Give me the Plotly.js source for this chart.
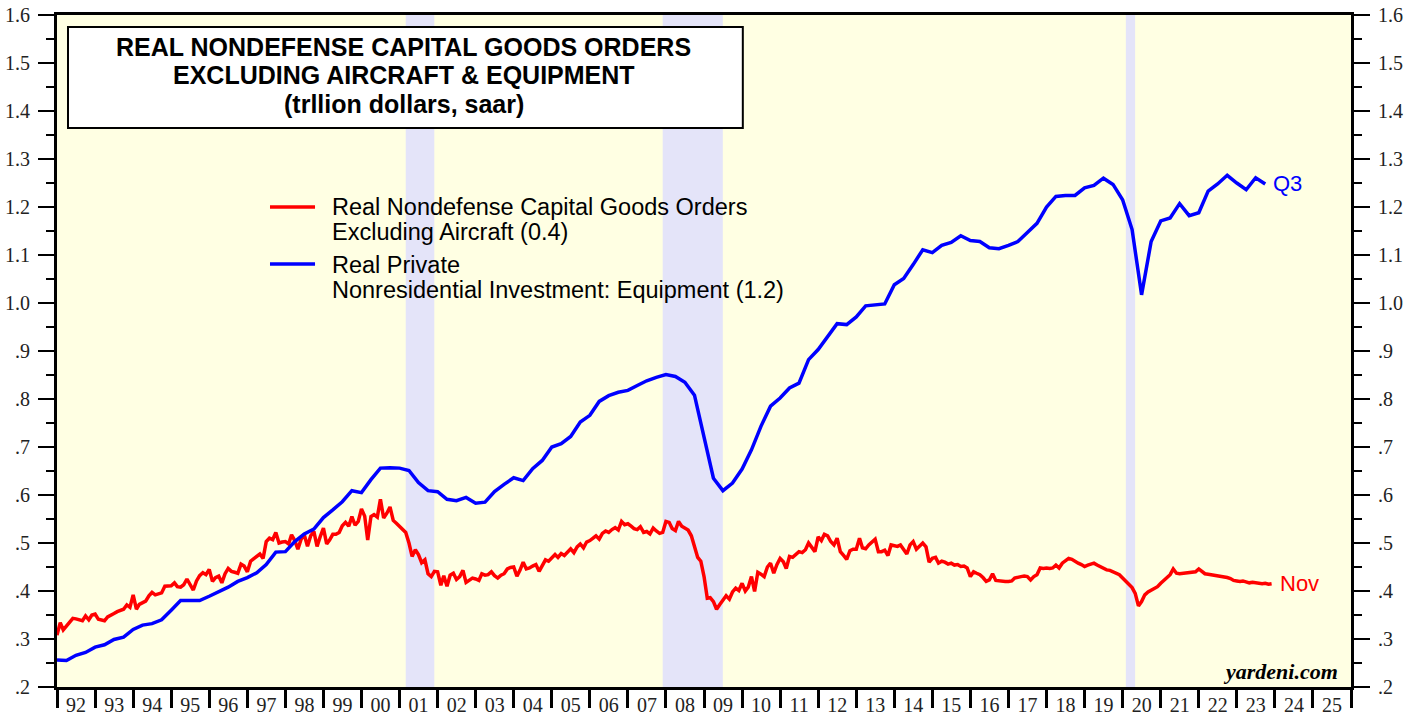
<!DOCTYPE html>
<html><head><meta charset="utf-8">
<script src="https://cdn.plot.ly/plotly-3.0.1.min.js"></script>
<style>html,body{margin:0;padding:0;background:#fff;}#chart{width:1417px;height:719px;}</style>
</head><body><div id="chart"></div>
<script>
// Real nondefense capital goods orders ex aircraft (trillion $, saar), monthly, plotted at month end
const ordersValues = [
 0.308,0.334,0.319,0.328,0.336,0.343,0.342,0.340,0.338,0.348,0.340,0.350,
 0.352,0.341,0.339,0.338,0.346,0.349,0.353,0.357,0.360,0.362,0.371,0.366,
 0.392,0.362,0.372,0.376,0.379,0.390,0.397,0.392,0.394,0.396,0.410,0.411,
 0.411,0.417,0.409,0.408,0.413,0.425,0.415,0.402,0.421,0.432,0.438,0.434,
 0.445,0.420,0.428,0.431,0.417,0.436,0.447,0.441,0.439,0.437,0.456,0.452,
 0.440,0.462,0.467,0.472,0.477,0.468,0.503,0.510,0.507,0.522,0.500,0.502,
 0.503,0.498,0.517,0.505,0.487,0.508,0.517,0.493,0.515,0.524,0.493,0.513,
 0.531,0.498,0.506,0.518,0.518,0.522,0.536,0.543,0.535,0.555,0.537,0.545,
 0.571,0.556,0.506,0.555,0.559,0.554,0.591,0.552,0.562,0.575,0.547,0.541,
 0.535,0.527,0.522,0.500,0.472,0.486,0.476,0.459,0.465,0.436,0.430,0.441,
 0.440,0.412,0.432,0.410,0.433,0.437,0.424,0.430,0.443,0.418,0.422,0.427,
 0.425,0.422,0.436,0.433,0.434,0.440,0.432,0.427,0.433,0.436,0.446,0.449,
 0.450,0.431,0.443,0.460,0.446,0.448,0.452,0.455,0.441,0.452,0.465,0.462,
 0.468,0.476,0.470,0.478,0.474,0.482,0.488,0.480,0.492,0.498,0.490,0.502,
 0.505,0.510,0.515,0.508,0.520,0.525,0.522,0.528,0.532,0.527,0.545,0.538,
 0.540,0.535,0.530,0.528,0.534,0.522,0.524,0.519,0.531,0.525,0.520,0.522,
 0.545,0.543,0.530,0.526,0.545,0.535,0.530,0.527,0.515,0.495,0.470,0.462,
 0.430,0.385,0.386,0.378,0.362,0.372,0.380,0.390,0.383,0.398,0.406,0.401,
 0.416,0.400,0.408,0.430,0.399,0.439,0.435,0.430,0.450,0.458,0.437,0.455,
 0.468,0.461,0.447,0.472,0.470,0.475,0.482,0.480,0.486,0.500,0.490,0.482,
 0.513,0.505,0.518,0.515,0.503,0.496,0.510,0.482,0.474,0.466,0.484,0.487,
 0.487,0.510,0.490,0.488,0.496,0.502,0.508,0.482,0.482,0.485,0.474,0.496,
 0.495,0.493,0.496,0.487,0.477,0.496,0.503,0.487,0.493,0.500,0.492,0.460,
 0.468,0.470,0.458,0.462,0.460,0.456,0.458,0.454,0.455,0.451,0.452,0.448,
 0.430,0.440,0.437,0.434,0.428,0.420,0.423,0.436,0.422,0.421,0.420,0.420,
 0.420,0.421,0.427,0.429,0.430,0.431,0.430,0.423,0.430,0.434,0.448,0.447,
 0.448,0.447,0.448,0.454,0.448,0.458,0.463,0.468,0.466,0.461,0.458,0.455,
 0.451,0.454,0.456,0.458,0.454,0.451,0.448,0.444,0.443,0.440,0.437,0.434,
 0.427,0.420,0.413,0.407,0.395,0.369,0.378,0.392,0.398,0.401,0.405,0.409,
 0.416,0.422,0.428,0.434,0.446,0.437,0.436,0.437,0.438,0.439,0.440,0.440,
 0.446,0.441,0.436,0.435,0.434,0.432,0.431,0.431,0.430,0.428,0.426,0.422,
 0.421,0.420,0.421,0.418,0.417,0.418,0.417,0.416,0.415,0.416,0.414,0.415
];
// Real private nonresidential investment: equipment (trillion $, saar), quarterly, plotted at quarter end
const equipmentValues = [
 0.256,0.255,0.266,0.272, 0.283,0.288,0.299,0.304, 0.320,0.329,0.332,0.340, 0.360,0.380,0.380,0.380,
 0.389,0.398,0.408,0.420, 0.428,0.438,0.455,0.481, 0.482,0.503,0.519,0.529, 0.553,0.569,0.586,0.609,
 0.605,0.632,0.656,0.657, 0.656,0.651,0.626,0.609, 0.607,0.591,0.588,0.595, 0.583,0.585,0.607,0.622,
 0.636,0.630,0.655,0.672, 0.700,0.707,0.722,0.752, 0.766,0.795,0.807,0.814, 0.818,0.828,0.838,0.845,
 0.851,0.847,0.835,0.808, 0.722,0.635,0.609,0.625, 0.654,0.694,0.743,0.785, 0.802,0.823,0.833,0.882,
 0.903,0.930,0.957,0.955, 0.971,0.994,0.996,0.998, 1.038,1.051,1.080,1.111, 1.105,1.120,1.126,1.140,
 1.130,1.128,1.115,1.113, 1.120,1.128,1.147,1.166, 1.200,1.222,1.224,1.224, 1.240,1.245,1.260,1.247,
 1.215,1.153,1.017,1.128, 1.171,1.177,1.207,1.182, 1.188,1.233,1.248,1.266, 1.250,1.236,1.261,1.248
];
const ordersStart = [1992, 1];     // first plotted position (month end of Dec 1991)
const equipmentStart = [1992, 1];  // first plotted position (quarter end of Q4 1991)
const recessionStart = ['2001-03-01', '2007-12-01', '2020-02-01'];
const recessionEnd = ['2001-11-30', '2009-06-30', '2020-04-30'];
const yTickVals = [0.2,0.3,0.4,0.5,0.6,0.7,0.8,0.9,1.0,1.1,1.2,1.3,1.4,1.5,1.6];
const yTickText = ['.2','.3','.4','.5','.6','.7','.8','.9','1.0','1.1','1.2','1.3','1.4','1.5','1.6'];
const xRange = ['1992-01-01', '2026-01-01'];
const titleLines = ['REAL NONDEFENSE CAPITAL GOODS ORDERS', 'EXCLUDING AIRCRAFT & EQUIPMENT', '(trllion dollars, saar)'];
const legendRed = ['Real Nondefense Capital Goods Orders', 'Excluding Aircraft (0.4)'];
const legendBlue = ['Real Private', 'Nonresidential Investment: Equipment (1.2)'];
const ordersLabel = 'Nov';
const equipmentLabel = 'Q3';
const sourceLabel = 'yardeni.com';

function monthDates(start, n, step) {
  const out = [];
  for (let i = 0; i < n; i++) {
    const t = (start[1] - 1) + i * step;
    const y = start[0] + Math.floor(t / 12);
    const m = (t % 12) + 1;
    out.push(y + '-' + String(m).padStart(2, '0') + '-01');
  }
  return out;
}
const ordersDates = monthDates(ordersStart, ordersValues.length, 1);
const equipmentDates = monthDates(equipmentStart, equipmentValues.length, 3);

const RED = '#FF0000', BLUE = '#0000FF';
const serif = 'Liberation Serif, Times New Roman, serif';
const sans = 'Liberation Sans, Arial, sans-serif';

const traces = [
  {x: ordersDates, y: ordersValues, type: 'scatter', mode: 'lines', line: {color: RED, width: 3.5}, yaxis: 'y', hoverinfo: 'skip'},
  {x: equipmentDates, y: equipmentValues, type: 'scatter', mode: 'lines', line: {color: BLUE, width: 3.5}, yaxis: 'y2', hoverinfo: 'skip'}
];

const yCommon = {
  range: [0.2, 1.6], tickmode: 'array', tickvals: yTickVals, ticktext: yTickText,
  ticks: 'outside', ticklen: 16, tickwidth: 2, tickcolor: '#000',
  showline: true, linewidth: 3, linecolor: '#000', showgrid: false, zeroline: false,
  tickfont: {family: serif, size: 20, color: '#222'}, ticklabelstandoff: 4,
  minor: {tickmode: 'linear', tick0: 0.25, dtick: 0.1, ticks: 'outside', ticklen: 8, tickwidth: 2, tickcolor: '#000', showgrid: false},
  fixedrange: true
};

const shapes = [];
for (let i = 0; i < recessionStart.length; i++) {
  shapes.push({type: 'rect', xref: 'x', yref: 'paper', x0: recessionStart[i], x1: recessionEnd[i], y0: 0, y1: 1,
    fillcolor: '#E4E4F9', line: {width: 0}, layer: 'below'});
}
shapes.push({type: 'rect', xref: 'paper', yref: 'paper', x0: 0.0085, x1: 0.530, y0: 0.832, y1: 0.982,
  fillcolor: '#FFFFFF', line: {color: '#000', width: 2}});
shapes.push({type: 'line', xref: 'paper', yref: 'paper', x0: 0.1646, x1: 0.1994, y0: 0.7143, y1: 0.7143, line: {color: RED, width: 3.5}});
shapes.push({type: 'line', xref: 'paper', yref: 'paper', x0: 0.1646, x1: 0.1994, y0: 0.6295, y1: 0.6295, line: {color: BLUE, width: 3.5}});

const annotations = [];
const titleY = [0.9524, 0.9107, 0.8676];
titleLines.forEach((t, i) => annotations.push({xref: 'paper', yref: 'paper', x: 0.268, y: titleY[i], xanchor: 'center', yanchor: 'middle',
  text: '<b>' + t + '</b>', showarrow: false, font: {family: sans, size: 25, color: '#000'}}));
const legY = [0.7143, 0.6771, 0.628, 0.5908];
legendRed.concat(legendBlue).forEach((t, i) => annotations.push({xref: 'paper', yref: 'paper', x: 0.211, y: legY[i], xanchor: 'left', yanchor: 'middle',
  text: t, showarrow: false, font: {family: sans, size: 23.5, color: '#000'}}));
annotations.push({xref: 'x', yref: 'y', x: ordersDates[ordersDates.length - 1], y: ordersValues[ordersValues.length - 1],
  xanchor: 'left', yanchor: 'middle', xshift: 6, text: ordersLabel, showarrow: false, font: {family: sans, size: 22, color: RED}});
annotations.push({xref: 'x', yref: 'y2', x: equipmentDates[equipmentDates.length - 1], y: equipmentValues[equipmentValues.length - 1],
  xanchor: 'left', yanchor: 'middle', xshift: 6, text: equipmentLabel, showarrow: false, font: {family: sans, size: 22, color: BLUE}});
annotations.push({xref: 'paper', yref: 'paper', x: 0.9915, y: 0.023, xanchor: 'right', yanchor: 'middle',
  text: '<b><i>' + sourceLabel + '</i></b>', showarrow: false, font: {family: serif, size: 22, color: '#000'}});

const layout = {
  width: 1417, height: 719,
  margin: {l: 57, r: 66, t: 15, b: 32, pad: 0},
  paper_bgcolor: '#FFFFFF', plot_bgcolor: '#FFFFE3',
  showlegend: false,
  xaxis: {
    type: 'date', range: xRange, tick0: '1992-01-01', dtick: 'M12', tickformat: '%y', ticklabelmode: 'period',
    ticks: 'outside', ticklen: 18, tickwidth: 3, tickcolor: '#000',
    showline: true, linewidth: 3, linecolor: '#000', mirror: true, showgrid: false, zeroline: false,
    tickfont: {family: serif, size: 20, color: '#222'}, ticklabelstandoff: -20, fixedrange: true
  },
  yaxis: Object.assign({side: 'left'}, yCommon),
  yaxis2: Object.assign({side: 'right', overlaying: 'y'}, yCommon),
  shapes: shapes,
  annotations: annotations
};

Plotly.newPlot('chart', traces, layout, {staticPlot: true, displayModeBar: false});
</script>
</body></html>
